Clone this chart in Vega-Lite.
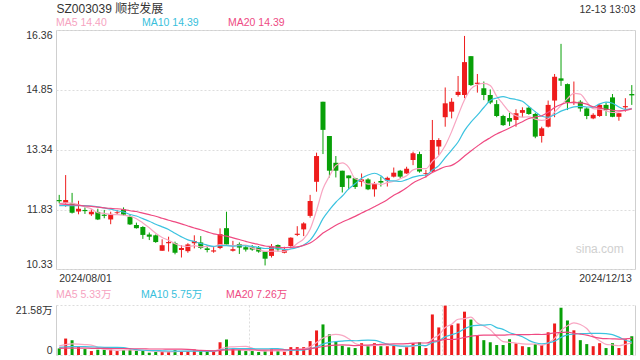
{
"$schema": "https://vega.github.io/schema/vega-lite/v6.json",
"background": "white",
"padding": {"left": 13, "top": 1, "right": 6, "bottom": 5},
"autosize": {"type": "pad"},
"bounds": "flush",
"spacing": 36,
"data": {"values": [
{"d":"2024/08/01","o":12.07,"h":12.20,"l":11.99,"c":12.04,"v":2.84,"m5":11.98,"m10":11.93,"m20":11.97,"v5":4.0,"v10":3.3,"v20":2.9},
{"d":"2024/08/02","o":12.00,"h":12.70,"l":11.90,"c":12.07,"v":7.1,"m5":12.00,"m10":11.93,"m20":11.96,"v5":4.5,"v10":3.5,"v20":3.0},
{"d":"2024/08/05","o":11.99,"h":12.25,"l":11.73,"c":11.75,"v":6.4,"m5":11.99,"m10":11.93,"m20":11.95,"v5":4.8,"v10":3.6,"v20":3.0},
{"d":"2024/08/06","o":11.78,"h":12.05,"l":11.71,"c":11.85,"v":3.7,"m5":11.95,"m10":11.93,"m20":11.94,"v5":4.7,"v10":3.6,"v20":3.0},
{"d":"2024/08/07","o":11.82,"h":11.885,"l":11.72,"c":11.79,"v":2.56,"m5":11.90,"m10":11.93,"m20":11.92,"v5":4.52,"v10":3.6,"v20":3.0},
{"d":"2024/08/08","o":11.71,"h":11.835,"l":11.67,"c":11.775,"v":1.7,"m5":11.847,"m10":11.92,"m20":11.91,"v5":4.29,"v10":3.5,"v20":2.9},
{"d":"2024/08/09","o":11.77,"h":11.85,"l":11.565,"c":11.58,"v":2.27,"m5":11.749,"m10":11.90,"m20":11.89,"v5":3.33,"v10":3.4,"v20":2.9},
{"d":"2024/08/12","o":11.70,"h":11.82,"l":11.61,"c":11.67,"v":2.27,"m5":11.733,"m10":11.87,"m20":11.87,"v5":2.5,"v10":3.3,"v20":2.9},
{"d":"2024/08/13","o":11.58,"h":11.775,"l":11.46,"c":11.72,"v":2.4,"m5":11.707,"m10":11.84,"m20":11.86,"v5":2.24,"v10":3.3,"v20":2.8},
{"d":"2024/08/14","o":11.74,"h":11.82,"l":11.71,"c":11.76,"v":1.7,"m5":11.701,"m10":11.80,"m20":11.85,"v5":2.07,"v10":3.30,"v20":2.8},
{"d":"2024/08/15","o":11.835,"h":11.885,"l":11.68,"c":11.70,"v":2.1,"m5":11.686,"m10":11.767,"m20":11.83,"v5":2.15,"v10":3.22,"v20":2.8},
{"d":"2024/08/16","o":11.65,"h":11.71,"l":11.44,"c":11.455,"v":2.27,"m5":11.661,"m10":11.705,"m20":11.80,"v5":2.15,"v10":2.74,"v20":2.7},
{"d":"2024/08/19","o":11.44,"h":11.50,"l":11.35,"c":11.36,"v":1.85,"m5":11.599,"m10":11.666,"m20":11.78,"v5":2.06,"v10":2.28,"v20":2.7},
{"d":"2024/08/20","o":11.39,"h":11.41,"l":11.09,"c":11.19,"v":1.85,"m5":11.493,"m10":11.60,"m20":11.74,"v5":1.95,"v10":2.10,"v20":2.7},
{"d":"2024/08/21","o":11.20,"h":11.25,"l":11.06,"c":11.145,"v":1.0,"m5":11.37,"m10":11.536,"m20":11.70,"v5":1.81,"v10":1.94,"v20":2.6},
{"d":"2024/08/22","o":11.18,"h":11.20,"l":10.99,"c":11.01,"v":1.28,"m5":11.232,"m10":11.459,"m20":11.66,"v5":1.65,"v10":1.90,"v20":2.6},
{"d":"2024/08/23","o":10.79,"h":11.08,"l":10.79,"c":10.93,"v":1.42,"m5":11.127,"m10":11.394,"m20":11.61,"v5":1.48,"v10":1.82,"v20":2.6},
{"d":"2024/08/26","o":10.98,"h":11.145,"l":10.77,"c":11.01,"v":1.42,"m5":11.057,"m10":11.328,"m20":11.56,"v5":1.39,"v10":1.73,"v20":2.5},
{"d":"2024/08/27","o":10.98,"h":11.02,"l":10.70,"c":10.74,"v":2.1,"m5":10.967,"m10":11.23,"m20":11.52,"v5":1.44,"v10":1.70,"v20":2.5},
{"d":"2024/08/28","o":10.81,"h":10.93,"l":10.62,"c":10.86,"v":1.56,"m5":10.91,"m10":11.14,"m20":11.47,"v5":1.56,"v10":1.69,"v20":2.50},
{"d":"2024/08/29","o":10.78,"h":10.98,"l":10.74,"c":10.95,"v":1.7,"m5":10.898,"m10":11.065,"m20":11.416,"v5":1.64,"v10":1.65,"v20":2.44},
{"d":"2024/08/30","o":10.98,"h":11.18,"l":10.85,"c":11.035,"v":2.4,"m5":10.919,"m10":11.023,"m20":11.364,"v5":1.84,"v10":1.66,"v20":2.20},
{"d":"2024/09/02","o":11.00,"h":11.16,"l":10.83,"c":10.86,"v":1.7,"m5":10.889,"m10":10.973,"m20":11.32,"v5":1.89,"v10":1.64,"v20":1.96},
{"d":"2024/09/03","o":10.85,"h":10.93,"l":10.75,"c":10.81,"v":1.42,"m5":10.903,"m10":10.935,"m20":11.268,"v5":1.76,"v10":1.60,"v20":1.85},
{"d":"2024/09/04","o":10.77,"h":10.89,"l":10.74,"c":10.80,"v":1.42,"m5":10.891,"m10":10.90,"m20":11.218,"v5":1.73,"v10":1.65,"v20":1.80},
{"d":"2024/09/05","o":10.86,"h":11.355,"l":10.83,"c":11.21,"v":5.5,"m5":10.943,"m10":10.92,"m20":11.19,"v5":2.49,"v10":2.07,"v20":1.99},
{"d":"2024/09/06","o":11.36,"h":11.775,"l":10.95,"c":10.95,"v":6.7,"m5":10.926,"m10":10.922,"m20":11.158,"v5":3.35,"v10":2.60,"v20":2.21},
{"d":"2024/09/09","o":10.79,"h":11.04,"l":10.77,"c":10.83,"v":2.56,"m5":10.92,"m10":10.905,"m20":11.117,"v5":3.52,"v10":2.71,"v20":2.22},
{"d":"2024/09/10","o":10.96,"h":11.00,"l":10.71,"c":10.87,"v":2.1,"m5":10.932,"m10":10.917,"m20":11.074,"v5":3.66,"v10":2.71,"v20":2.21},
{"d":"2024/09/11","o":10.88,"h":10.91,"l":10.77,"c":10.82,"v":1.7,"m5":10.936,"m10":10.913,"m20":11.027,"v5":3.71,"v10":2.72,"v20":2.21},
{"d":"2024/09/12","o":10.875,"h":10.935,"l":10.79,"c":10.82,"v":1.7,"m5":10.858,"m10":10.90,"m20":10.983,"v5":2.95,"v10":2.72,"v20":2.19},
{"d":"2024/09/13","o":10.875,"h":10.91,"l":10.74,"c":10.77,"v":1.28,"m5":10.822,"m10":10.874,"m20":10.949,"v5":1.87,"v10":2.61,"v20":2.14},
{"d":"2024/09/18","o":10.77,"h":10.78,"l":10.42,"c":10.59,"v":1.7,"m5":10.774,"m10":10.847,"m20":10.91,"v5":1.70,"v10":2.61,"v20":2.13},
{"d":"2024/09/19","o":10.66,"h":10.96,"l":10.62,"c":10.89,"v":2.4,"m5":10.778,"m10":10.855,"m20":10.895,"v5":1.76,"v10":2.71,"v20":2.16},
{"d":"2024/09/20","o":10.935,"h":10.95,"l":10.77,"c":10.825,"v":1.7,"m5":10.779,"m10":10.857,"m20":10.879,"v5":1.76,"v10":2.74,"v20":2.20},
{"d":"2024/09/23","o":10.74,"h":10.89,"l":10.725,"c":10.81,"v":1.42,"m5":10.777,"m10":10.817,"m20":10.869,"v5":1.70,"v10":2.33,"v20":2.20},
{"d":"2024/09/24","o":10.91,"h":11.13,"l":10.89,"c":11.12,"v":3.4,"m5":10.847,"m10":10.834,"m20":10.878,"v5":2.12,"v10":2.00,"v20":2.30},
{"d":"2024/09/25","o":11.19,"h":11.41,"l":11.16,"c":11.22,"v":3.4,"m5":10.973,"m10":10.873,"m20":10.889,"v5":2.46,"v10":2.08,"v20":2.40},
{"d":"2024/09/26","o":11.33,"h":11.51,"l":11.16,"c":11.48,"v":3.4,"m5":11.091,"m10":10.934,"m20":10.926,"v5":2.66,"v10":2.21,"v20":2.46},
{"d":"2024/09/27","o":11.67,"h":12.20,"l":11.625,"c":12.045,"v":6.0,"m5":11.335,"m10":11.057,"m20":10.985,"v5":3.52,"v10":2.64,"v20":2.68},
{"d":"2024/09/30","o":12.53,"h":13.265,"l":12.28,"c":13.18,"v":10.6,"m5":11.809,"m10":11.293,"m20":11.097,"v5":5.36,"v10":3.53,"v20":3.13},
{"d":"2024/10/08","o":14.55,"h":14.55,"l":13.23,"c":13.84,"v":13.2,"m5":12.353,"m10":11.60,"m20":11.237,"v5":7.32,"v10":4.72,"v20":3.67},
{"d":"2024/10/09","o":13.685,"h":13.685,"l":12.64,"c":12.81,"v":8.9,"m5":12.671,"m10":11.822,"m20":11.335,"v5":8.42,"v10":5.44,"v20":4.03},
{"d":"2024/10/10","o":13.01,"h":13.18,"l":12.64,"c":12.81,"v":5.7,"m5":12.937,"m10":12.014,"m20":11.435,"v5":8.88,"v10":5.77,"v20":4.24},
{"d":"2024/10/11","o":12.81,"h":12.81,"l":12.26,"c":12.40,"v":4.0,"m5":13.008,"m10":12.171,"m20":11.514,"v5":8.48,"v10":6.0,"v20":4.37},
{"d":"2024/10/14","o":12.69,"h":12.69,"l":12.34,"c":12.62,"v":3.3,"m5":12.896,"m10":12.352,"m20":11.585,"v5":7.02,"v10":6.19,"v20":4.26},
{"d":"2024/10/15","o":12.62,"h":12.63,"l":12.35,"c":12.40,"v":3.0,"m5":12.608,"m10":12.48,"m20":11.657,"v5":4.98,"v10":6.15,"v20":4.08},
{"d":"2024/10/16","o":12.53,"h":12.74,"l":12.41,"c":12.59,"v":5.1,"m5":12.564,"m10":12.617,"m20":11.745,"v5":4.22,"v10":6.32,"v20":4.20},
{"d":"2024/10/17","o":12.59,"h":12.62,"l":12.32,"c":12.34,"v":4.0,"m5":12.47,"m10":12.703,"m20":11.819,"v5":3.88,"v10":6.38,"v20":4.30},
{"d":"2024/10/18","o":12.34,"h":12.53,"l":12.155,"c":12.475,"v":5.1,"m5":12.485,"m10":12.746,"m20":11.902,"v5":4.10,"v10":6.29,"v20":4.47},
{"d":"2024/10/21","o":12.55,"h":12.66,"l":12.41,"c":12.51,"v":3.8,"m5":12.463,"m10":12.68,"m20":11.987,"v5":4.20,"v10":5.61,"v20":4.57},
{"d":"2024/10/22","o":12.56,"h":12.66,"l":12.41,"c":12.63,"v":3.8,"m5":12.509,"m10":12.558,"m20":12.079,"v5":4.36,"v10":4.67,"v20":4.70},
{"d":"2024/10/23","o":12.66,"h":12.89,"l":12.64,"c":12.76,"v":4.0,"m5":12.543,"m10":12.553,"m20":12.188,"v5":4.14,"v10":4.18,"v20":4.81},
{"d":"2024/10/24","o":12.81,"h":12.83,"l":12.62,"c":12.66,"v":2.56,"m5":12.607,"m10":12.538,"m20":12.276,"v5":3.85,"v10":3.87,"v20":4.82},
{"d":"2024/10/25","o":12.74,"h":12.91,"l":12.73,"c":12.86,"v":3.55,"m5":12.684,"m10":12.584,"m20":12.378,"v5":3.54,"v10":3.82,"v20":4.91},
{"d":"2024/10/28","o":13.08,"h":13.29,"l":12.95,"c":13.25,"v":5.1,"m5":12.832,"m10":12.647,"m20":12.50,"v5":3.80,"v10":4.0,"v20":5.10},
{"d":"2024/10/29","o":13.23,"h":13.29,"l":12.76,"c":12.79,"v":5.5,"m5":12.864,"m10":12.686,"m20":12.583,"v5":4.14,"v10":4.25,"v20":5.20},
{"d":"2024/10/30","o":12.73,"h":12.83,"l":12.64,"c":12.75,"v":3.0,"m5":12.862,"m10":12.702,"m20":12.66,"v5":3.94,"v10":4.04,"v20":5.18},
{"d":"2024/10/31","o":12.79,"h":14.09,"l":12.76,"c":13.585,"v":17.5,"m5":13.047,"m10":12.827,"m20":12.765,"v5":6.93,"v10":5.39,"v20":5.89},
{"d":"2024/11/01","o":13.42,"h":13.63,"l":13.21,"c":13.585,"v":11.9,"m5":13.192,"m10":12.938,"m20":12.842,"v5":8.60,"v10":6.07,"v20":6.18},
{"d":"2024/11/04","o":14.16,"h":14.91,"l":13.92,"c":14.51,"v":21.3,"m5":13.444,"m10":13.138,"m20":12.909,"v5":11.84,"v10":7.82,"v20":6.72},
{"d":"2024/11/05","o":14.30,"h":14.64,"l":14.13,"c":14.55,"v":12.9,"m5":13.796,"m10":13.33,"m20":12.944,"v5":13.32,"v10":8.73,"v20":6.70},
{"d":"2024/11/06","o":14.72,"h":15.20,"l":14.68,"c":14.80,"v":13.6,"m5":14.206,"m10":13.534,"m20":13.044,"v5":15.44,"v10":9.69,"v20":6.94},
{"d":"2024/11/07","o":14.72,"h":16.21,"l":14.64,"c":15.55,"v":18.7,"m5":14.599,"m10":13.823,"m20":13.181,"v5":15.68,"v10":11.31,"v20":7.59},
{"d":"2024/11/08","o":15.70,"h":15.70,"l":14.95,"c":14.97,"v":15.3,"m5":14.876,"m10":14.034,"m20":13.309,"v5":16.36,"v10":12.48,"v20":8.15},
{"d":"2024/11/11","o":15.00,"h":15.25,"l":14.78,"c":15.03,"v":8.5,"m5":14.98,"m10":14.212,"m20":13.43,"v5":13.8,"v10":12.82,"v20":8.41},
{"d":"2024/11/12","o":14.89,"h":15.06,"l":14.59,"c":14.72,"v":6.4,"m5":15.014,"m10":14.405,"m20":13.546,"v5":12.5,"v10":12.91,"v20":8.58},
{"d":"2024/11/13","o":14.72,"h":14.86,"l":14.49,"c":14.53,"v":5.5,"m5":14.96,"m10":14.583,"m20":13.643,"v5":10.88,"v10":13.16,"v20":8.60},
{"d":"2024/11/14","o":14.49,"h":14.59,"l":14.16,"c":14.19,"v":4.3,"m5":14.688,"m10":14.644,"m20":13.736,"v5":8.0,"v10":11.84,"v20":8.62},
{"d":"2024/11/15","o":14.19,"h":14.22,"l":13.94,"c":13.96,"v":4.3,"m5":14.486,"m10":14.681,"m20":13.81,"v5":5.8,"v10":11.08,"v20":8.58},
{"d":"2024/11/18","o":14.14,"h":14.27,"l":13.94,"c":14.05,"v":6.8,"m5":14.29,"m10":14.635,"m20":13.887,"v5":5.46,"v10":9.63,"v20":8.73},
{"d":"2024/11/19","o":14.09,"h":14.36,"l":13.92,"c":14.26,"v":5.0,"m5":14.198,"m10":14.606,"m20":13.968,"v5":5.18,"v10":8.84,"v20":8.79},
{"d":"2024/11/20","o":14.27,"h":14.41,"l":14.16,"c":14.34,"v":3.8,"m5":14.16,"m10":14.56,"m20":14.047,"v5":4.84,"v10":7.86,"v20":8.78},
{"d":"2024/11/21","o":14.40,"h":14.43,"l":14.22,"c":14.24,"v":3.4,"m5":14.17,"m10":14.429,"m20":14.126,"v5":4.66,"v10":6.33,"v20":8.82},
{"d":"2024/11/22","o":14.24,"h":14.27,"l":13.63,"c":13.67,"v":4.7,"m5":14.112,"m10":14.299,"m20":14.167,"v5":4.74,"v10":5.27,"v20":8.88},
{"d":"2024/11/25","o":13.685,"h":13.92,"l":13.52,"c":13.88,"v":4.3,"m5":14.078,"m10":14.184,"m20":14.198,"v5":4.24,"v10":4.85,"v20":8.84},
{"d":"2024/11/26","o":13.92,"h":14.58,"l":13.90,"c":14.47,"v":9.8,"m5":14.12,"m10":14.159,"m20":14.282,"v5":5.2,"v10":5.19,"v20":9.05},
{"d":"2024/11/27","o":14.58,"h":15.25,"l":14.16,"c":15.18,"v":13.6,"m5":14.288,"m10":14.224,"m20":14.404,"v5":7.16,"v10":6.0,"v20":9.58},
{"d":"2024/11/28","o":15.14,"h":16.01,"l":14.95,"c":15.08,"v":20.4,"m5":14.456,"m10":14.313,"m20":14.479,"v5":10.56,"v10":7.61,"v20":9.73},
{"d":"2024/11/29","o":14.995,"h":15.01,"l":14.34,"c":14.53,"v":14.9,"m5":14.628,"m10":14.37,"m20":14.526,"v5":12.6,"v10":8.67,"v20":9.88},
{"d":"2024/12/02","o":14.53,"h":15.06,"l":14.47,"c":14.55,"v":10.65,"m5":14.762,"m10":14.42,"m20":14.528,"v5":13.87,"v10":9.06,"v20":9.35},
{"d":"2024/12/03","o":14.55,"h":14.59,"l":14.30,"c":14.38,"v":6.4,"m5":14.744,"m10":14.432,"m20":14.519,"v5":13.19,"v10":9.20,"v20":9.02},
{"d":"2024/12/04","o":14.38,"h":14.41,"l":14.11,"c":14.19,"v":4.7,"m5":14.546,"m10":14.417,"m20":14.489,"v5":11.41,"v10":9.29,"v20":8.58},
{"d":"2024/12/05","o":14.13,"h":14.26,"l":14.11,"c":14.22,"v":3.8,"m5":14.374,"m10":14.415,"m20":14.422,"v5":8.09,"v10":9.33,"v20":7.83},
{"d":"2024/12/06","o":14.19,"h":14.49,"l":14.17,"c":14.47,"v":5.1,"m5":14.362,"m10":14.495,"m20":14.397,"v5":6.13,"v10":9.37,"v20":7.32},
{"d":"2024/12/09","o":14.47,"h":14.53,"l":14.19,"c":14.34,"v":3.0,"m5":14.32,"m10":14.541,"m20":14.363,"v5":4.6,"v10":9.24,"v20":7.05},
{"d":"2024/12/10","o":14.66,"h":14.745,"l":14.16,"c":14.17,"v":5.1,"m5":14.278,"m10":14.511,"m20":14.335,"v5":4.34,"v10":8.77,"v20":6.98},
{"d":"2024/12/11","o":14.17,"h":14.27,"l":14.07,"c":14.26,"v":3.0,"m5":14.292,"m10":14.419,"m20":14.322,"v5":4.0,"v10":7.71,"v20":6.86},
{"d":"2024/12/12","o":14.41,"h":14.64,"l":14.30,"c":14.44,"v":6.8,"m5":14.336,"m10":14.355,"m20":14.334,"v5":4.6,"v10":6.35,"v20":6.98},
{"d":"2024/12/13","o":14.745,"h":14.97,"l":14.47,"c":14.71,"v":8.1,"m5":14.384,"m10":14.373,"m20":14.372,"v5":5.2,"v10":5.67,"v20":7.17}
]},
"vconcat": [
{
"width": 579, "height": 239,
"encoding": {
  "x": {"field": "d", "type": "ordinal", "sort": null, "scale": {"paddingInner": 0, "paddingOuter": 0},
        "axis": {"values": ["2024/08/01", "2024/12/13"], "labelFlush": 7, "labelPadding": 4, "title": null, "grid": false, "labelAngle": 0}}
},
"layer": [
  {"mark": {"type": "rule", "strokeWidth": 1},
   "encoding": {
     "y": {"field": "l", "type": "quantitative", "scale": {"domain": [10.33, 16.36], "nice": false, "zero": false},
           "axis": {"orient": "left", "values": [10.33, 11.83, 13.34, 14.85, 16.36], "format": ".2f", "labelFlush": true, "grid": true,
                    "labelPadding": 4, "minExtent": 42, "maxExtent": 42,
                    "title": "SZ003039 顺控发展", "titleAngle": 0, "titleX": 0, "titleY": -18, "titleAlign": "left", "titleBaseline": "alphabetic",
                    "titleFontSize": 12, "titleColor": "#333333", "titleFontWeight": "normal"}},
     "y2": {"field": "h"},
     "color": {"condition": {"test": "datum.c >= datum.o", "value": "#ee1c1c"}, "value": "#08a008"}
   }},
  {"mark": {"type": "bar", "width": 5},
   "encoding": {
     "y": {"field": "o", "type": "quantitative", "scale": {"domain": [10.33, 16.36], "nice": false, "zero": false},
           "axis": {"orient": "right", "labels": false, "grid": false, "domain": false, "ticks": false, "minExtent": 0, "maxExtent": 0,
                    "title": "12-13 13:03", "titleAngle": 0, "titleX": 0, "titleY": -18, "titleAlign": "right", "titleBaseline": "alphabetic",
                    "titleFontSize": 10.5, "titleColor": "#333333", "titleFontWeight": "normal"}},
     "y2": {"field": "c"},
     "color": {"condition": {"test": "datum.c >= datum.o", "value": "#ee1c1c"}, "value": "#08a008"}
   }},
  {"transform": [{"fold": ["m5", "m10", "m20"], "as": ["k", "val"]}],
   "mark": {"type": "line", "strokeWidth": 1.2, "interpolate": "monotone"},
   "encoding": {
     "y": {"field": "val", "type": "quantitative", "scale": {"domain": [10.33, 16.36], "nice": false, "zero": false}, "axis": null},
     "color": {"field": "k", "type": "nominal",
               "scale": {"domain": ["m5", "m10", "m20"], "range": ["#f8a6c2", "#3cc3e0", "#ef4a82"]},
               "legend": {"orient": "none", "legendX": -10.5, "legendY": -12, "direction": "horizontal", "columns": 3, "gridAlign": "all",
                          "columnPadding": 18, "title": null, "symbolSize": 0, "symbolOpacity": 0, "symbolStrokeWidth": 0,
                          "labelOffset": 0, "labelFontSize": 10.5, "padding": 0,
                          "labelExpr": "datum.value == 'm5' ? 'MA5 14.40' : datum.value == 'm10' ? 'MA10 14.39' : 'MA20 14.39'",
                          "labelColor": {"expr": "datum.value == 'm5' ? '#f6a3bf' : datum.value == 'm10' ? '#38bfdc' : '#ee4b83'"}}}
   }},
  {"data": {"values": [{"t": "sina.com"}]},
   "mark": {"type": "text", "align": "right", "baseline": "middle", "dx": -8, "fontSize": 12, "color": "#d0d0d0"},
   "encoding": {
     "x": {"datum": "2024/12/13", "type": "ordinal"},
     "y": {"datum": 10.83, "type": "quantitative", "axis": null},
     "text": {"field": "t"}
   }}
],
"resolve": {"axis": {"y": "independent"}}
},
{
"width": 579, "height": 50,
"view": {"stroke": null},
"encoding": {
  "x": {"field": "d", "type": "ordinal", "sort": null, "scale": {"paddingInner": 0, "paddingOuter": 0},
        "axis": {"values": ["2024/09/12", "2024/11/04"], "bandPosition": 0, "grid": true, "labels": false, "title": null, "domain": false}}
},
"layer": [
  {"mark": {"type": "bar", "width": 3},
   "encoding": {
     "y": {"field": "v", "type": "quantitative", "scale": {"domain": [0, 21.58], "nice": false},
           "axis": {"orient": "left", "values": [0, 21.58], "labelExpr": "datum.value == 0 ? '0' : '21.58万'", "labelFlush": true, "grid": true,
                    "domain": true, "domainColor": "#cfcfcf", "labelPadding": 4, "minExtent": 42, "maxExtent": 42, "title": null}},
     "color": {"condition": {"test": "datum.c >= datum.o", "value": "#ee1c1c"}, "value": "#08a008"}
   }},
  {"transform": [{"fold": ["v5", "v10", "v20"], "as": ["k", "val"]}],
   "mark": {"type": "line", "strokeWidth": 1.2, "interpolate": "monotone"},
   "encoding": {
     "y": {"field": "val", "type": "quantitative", "scale": {"domain": [0, 21.58], "nice": false},
           "axis": {"orient": "right", "labels": false, "grid": false, "domain": true, "domainColor": "#cfcfcf", "ticks": false, "title": null, "minExtent": 0, "maxExtent": 0}},
     "color": {"field": "k", "type": "nominal",
               "scale": {"domain": ["v5", "v10", "v20"], "range": ["#f8a6c2", "#3cc3e0", "#ef4a82"]},
               "legend": {"orient": "none", "legendX": -10.5, "legendY": -15, "direction": "horizontal", "columns": 3, "gridAlign": "all",
                          "columnPadding": 13, "title": null, "symbolSize": 0, "symbolOpacity": 0, "symbolStrokeWidth": 0,
                          "labelOffset": 0, "labelFontSize": 10.5, "padding": 0,
                          "labelExpr": "datum.value == 'v5' ? 'MA5 5.33万' : datum.value == 'v10' ? 'MA10 5.75万' : 'MA20 7.26万'",
                          "labelColor": {"expr": "datum.value == 'v5' ? '#f6a3bf' : datum.value == 'v10' ? '#38bfdc' : '#ee4b83'"}}}
   }}
],
"resolve": {"axis": {"y": "independent"}}
}
],
"resolve": {"scale": {"color": "independent"}, "legend": {"color": "independent"}},
"config": {
  "font": "Liberation Sans, Noto Sans CJK SC, sans-serif",
  "view": {"stroke": "#cfcfcf"},
  "axis": {"labelFontSize": 10.5, "labelColor": "#333333", "ticks": false, "domain": false, "gridColor": "#dddddd", "gridDash": [2, 2], "labelFont": "Liberation Sans, Noto Sans CJK SC, sans-serif"},
  "legend": {"labelFont": "Liberation Sans, Noto Sans CJK SC, sans-serif"}
}
}
